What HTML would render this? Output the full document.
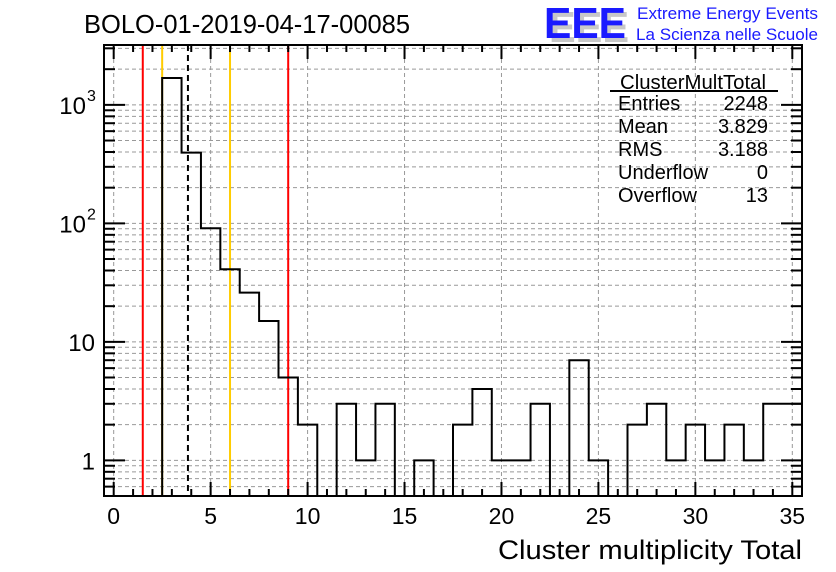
<!DOCTYPE html>
<html><head><meta charset="utf-8"><style>
body{margin:0;background:#fff;}
svg{display:block;font-family:"Liberation Sans",sans-serif;}
</style></head><body>
<svg id="c" width="836" height="572" xmlns="http://www.w3.org/2000/svg">
<g id="grid"></g>
<g id="lines"></g>
<g id="hist"></g>
<g id="axes"></g>
<text x="84" y="33" font-size="25.5">BOLO-01-2019-04-17-00085</text>
<g>
<text x="549" y="42" font-size="44" font-weight="bold" fill="#c8c8c8" textLength="80" lengthAdjust="spacingAndGlyphs">EEE</text>
<text x="544" y="38" font-size="44" font-weight="bold" fill="#1a1aff" textLength="82" lengthAdjust="spacingAndGlyphs">EEE</text>
<text x="637" y="19" font-size="17" fill="#1a1aff" textLength="181" lengthAdjust="spacingAndGlyphs">Extreme Energy Events</text>
<text x="636" y="40" font-size="17" fill="#1a1aff" textLength="182" lengthAdjust="spacingAndGlyphs">La Scienza nelle Scuole</text>
</g>
<g font-size="20">
<text x="620" y="89" textLength="146" lengthAdjust="spacingAndGlyphs">ClusterMultTotal</text>
<line x1="610" y1="91" x2="778" y2="91" stroke="#000" stroke-width="2"/>
<text x="618" y="110">Entries</text><text x="768" y="110" text-anchor="end">2248</text>
<text x="618" y="133">Mean</text><text x="768" y="133" text-anchor="end">3.829</text>
<text x="618" y="156">RMS</text><text x="768" y="156" text-anchor="end">3.188</text>
<text x="618" y="179">Underflow</text><text x="768" y="179" text-anchor="end">0</text>
<text x="618" y="202">Overflow</text><text x="768" y="202" text-anchor="end">13</text>
</g>
<text x="802" y="559" font-size="27" text-anchor="end" textLength="304" lengthAdjust="spacingAndGlyphs">Cluster multiplicity Total</text>
</svg>
<script>
const binCenters=[0,1,2,3,4,5,6,7,8,9,10,11,12,13,14,15,16,17,18,19,20,21,22,23,24,25,26,27,28,29,30,31,32,33,34,35];
const counts=[0,0,0,1686,395,91,41,26,15,5,2,0,3,1,3,0,1,0,2,4,1,1,3,0,7,1,0,2,3,1,2,1,2,1,3,3];
const xTicks=[0,5,10,15,20,25,30,35];
const yMajor=[1,10,100,1000];
const yLabels=["1","10","10","10"];
const yExp=["","","2","3"];
const markerX=[1.5,2.5,3.829,6.0,9.0];
const markerColors=["#ff0000","#ffcc00","#000","#ffcc00","#ff0000"];
const L=104,R=802,T=45,B=496,xMin=-0.5,xMax=35.5,yMin=0.5,yMax=3200;
const NS="http://www.w3.org/2000/svg";
function X(v){return L+(v-xMin)/(xMax-xMin)*(R-L);}
function Y(v){return B-(Math.log10(v)-Math.log10(yMin))/(Math.log10(yMax)-Math.log10(yMin))*(B-T);}
function mk(p,t,a){const e=document.createElementNS(NS,t);for(const k in a)e.setAttribute(k,a[k]);p.appendChild(e);return e;}
const grid=document.getElementById('grid'),axes=document.getElementById('axes'),hist=document.getElementById('hist'),lines=document.getElementById('lines');
for(let d=0.1;d<=1000;d*=10){for(let m=1;m<=9;m++){const v=Math.round(d*m*100)/100;if(v<yMin||v>yMax)continue;const y=Y(v);
 const g=mk(grid,'line',{x1:L,x2:R,y1:y,y2:y,stroke:'#999','stroke-dasharray':'4,3','stroke-width':1});
 
 const len=m==1?21:11;
 const t=mk(axes,'line',{x1:L,x2:L+len,y1:y,y2:y,stroke:'#000','stroke-width':2});
 
 mk(axes,'line',{x1:R,x2:R-len,y1:y,y2:y,stroke:'#000','stroke-width':2});}}
for(let v=0;v<=35;v++){const x=X(v);const maj=v%5==0;
 if(maj){const g=mk(grid,'line',{x1:x,x2:x,y1:T,y2:B,stroke:'#999','stroke-dasharray':'4,3','stroke-width':1});
 }
 const len=maj?14:7;
 const t=mk(axes,'line',{x1:x,x2:x,y1:B,y2:B-len,stroke:'#000','stroke-width':2});
 
 mk(axes,'line',{x1:x,x2:x,y1:T,y2:T+len,stroke:'#000','stroke-width':2});}
xTicks.forEach(v=>{const t=mk(axes,'text',{x:X(v),y:524,'font-size':23,'text-anchor':'middle'});t.textContent=v;
 });
yMajor.forEach((v,i)=>{const y=Y(v);const t=mk(axes,'text',{x:yExp[i]?86:95,y:y+9,'font-size':24,'text-anchor':'end'});t.textContent=yLabels[i];
 
 if(yExp[i]){const e=mk(axes,'text',{x:87,y:y-4,'font-size':16});e.textContent=yExp[i];}});
mk(axes,'rect',{x:L,y:T,width:R-L,height:B-T,fill:'none',stroke:'#000','stroke-width':2});
markerX.forEach((v,i)=>{const a={x1:X(v),x2:X(v),y1:T,y2:B,stroke:markerColors[i],'stroke-width':2};if(i==2)a['stroke-dasharray']='6,4';
 const l=mk(lines,'line',a);});
let d='';binCenters.forEach((c,i)=>{const x0=X(c-0.5),x1=X(c+0.5);const y=counts[i]>0?Y(counts[i]):B;
 d+=(i==0?'M'+x0+','+B:'')+'L'+x0+','+y+'L'+x1+','+y;});
const p=mk(hist,'path',{d:d,fill:'none',stroke:'#000','stroke-width':2});

</script>
</body></html>
